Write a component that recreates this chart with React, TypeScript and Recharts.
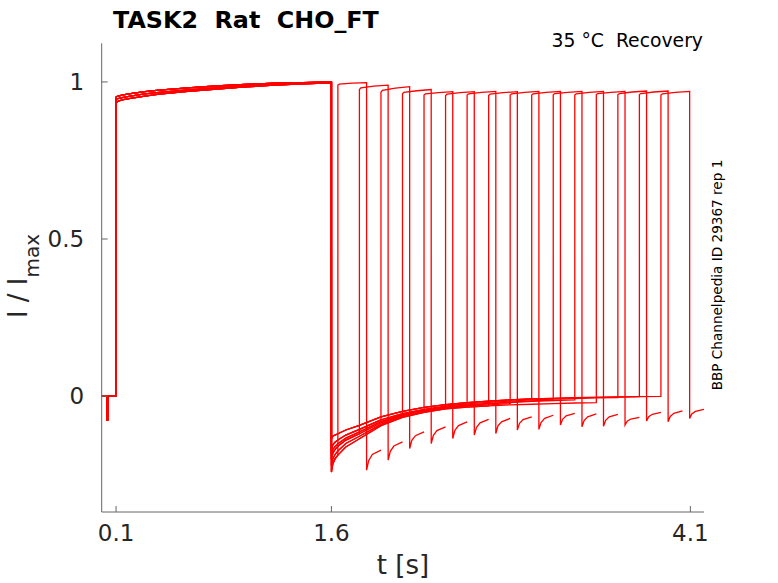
import React from "react";
import { LineChart, Line, XAxis, YAxis } from "recharts";

// ---- protocol / data ----
const xTicks = [0.1, 1.6, 4.1];
const yTicks = [0, 0.5, 1];

// holding segment (with the short capacitive dip)
const holdT = [0, 0.038, 0.039, 0.041, 0.042, 0.1];
const holdV = [0, 0, -0.076, -0.076, 0, 0];

// conditioning pulse 0.1 s -> 1.6 s
const depolT = [0.1, 0.102, 0.12, 0.15, 0.2, 0.3, 0.4, 0.6, 0.8, 1.0, 1.2, 1.4, 1.6];
const depolUpper = [0.947, 0.953, 0.956, 0.959, 0.963, 0.969, 0.974, 0.981, 0.987, 0.992, 0.996, 0.998, 1.0];
const depolMid = [0.937, 0.944, 0.948, 0.951, 0.955, 0.962, 0.967, 0.975, 0.981, 0.987, 0.992, 0.996, 0.998];
const depolLower = [0.928, 0.935, 0.94, 0.944, 0.948, 0.955, 0.961, 0.97, 0.977, 0.984, 0.99, 0.994, 0.997];
const depolShapes = [depolUpper, depolMid, depolLower];

// recovery tails after 1.6 s
const tailT = [1.6, 1.61, 1.625, 1.645, 1.7, 1.795, 1.945, 2.095, 2.245, 2.395, 2.545, 2.695, 2.845, 2.995, 3.145, 3.295, 3.445, 3.595, 3.745, 3.895];
const tailA = [-0.136, -0.128, -0.124, -0.12, -0.108, -0.093, -0.066, -0.049, -0.036, -0.027, -0.021, -0.016, -0.012, -0.009, -0.007, -0.005, -0.004, -0.003, -0.002, -0.001];
const tailB = [-0.17, -0.155, -0.147, -0.14, -0.124, -0.106, -0.076, -0.056, -0.042, -0.032, -0.025, -0.02, -0.016, -0.012, -0.01, -0.008, -0.006, -0.005, -0.004, -0.003];
const tailC = [-0.2, -0.182, -0.17, -0.16, -0.14, -0.12, -0.085, -0.062, -0.047, -0.037, -0.03, -0.025, -0.021, -0.017, -0.014, -0.012, -0.01, -0.008, -0.007, -0.006];
const tailD = [-0.242, -0.215, -0.2, -0.188, -0.162, -0.136, -0.094, -0.068, -0.052, -0.041, -0.035, -0.031, -0.028, -0.026, -0.024, -0.022, -0.021, -0.02, -0.019, -0.018];
const tailE = [-0.185, -0.17, -0.16, -0.152, -0.134, -0.114, -0.081, -0.059, -0.045, -0.035, -0.028, -0.023, -0.019, -0.015, -0.012, -0.01, -0.008, -0.006, -0.005, -0.004];
const tailF = [-0.222, -0.2, -0.186, -0.175, -0.151, -0.128, -0.09, -0.065, -0.05, -0.039, -0.032, -0.028, -0.024, -0.021, -0.019, -0.017, -0.015, -0.014, -0.013, -0.012];
const tailShapes = [tailA, tailB, tailC, tailD, tailE, tailF];

// per-sweep test pulses
const upTimes = [1.645, 1.795, 1.945, 2.095, 2.245, 2.395, 2.545, 2.695, 2.845, 2.995, 3.145, 3.295, 3.445, 3.595, 3.745, 3.895];
const testDuration = 0.2;
const pulseOffsets = [0, 0.01, 0.1, 0.2];
const pulseStart = [0.99, 0.976, 0.967, 0.962, 0.958, 0.957, 0.958, 0.957, 0.958, 0.958, 0.959, 0.958, 0.96, 0.959, 0.96, 0.958];
const pulseHook = [0.993, 0.981, 0.973, 0.967, 0.962, 0.961, 0.962, 0.961, 0.962, 0.962, 0.963, 0.962, 0.963, 0.963, 0.963, 0.962];
const pulseMid = [0.996, 0.987, 0.98, 0.972, 0.966, 0.966, 0.967, 0.966, 0.967, 0.967, 0.967, 0.967, 0.967, 0.968, 0.968, 0.967];
const pulseEnd = [0.998, 0.99, 0.985, 0.976, 0.969, 0.969, 0.97, 0.969, 0.97, 0.97, 0.97, 0.97, 0.97, 0.971, 0.971, 0.97];

// tails after each test pulse
const afterOffsets = [0, 0.015, 0.04, 0.1];
const afterS = [-0.236, -0.204, -0.167, -0.151, -0.135, -0.124, -0.119, -0.108, -0.106, -0.092, -0.098, -0.096, -0.092, -0.079, -0.082, -0.071];
const after1 = [-0.205, -0.176, -0.141, -0.125, -0.109, -0.1, -0.095, -0.087, -0.084, -0.074, -0.078, -0.077, -0.08, -0.066, -0.065, -0.057];
const after2 = [-0.186, -0.159, -0.126, -0.11, -0.094, -0.085, -0.082, -0.075, -0.071, -0.063, -0.066, -0.066, -0.073, -0.058, -0.055, -0.049];
const afterE = [-0.172, -0.146, -0.114, -0.098, -0.082, -0.074, -0.071, -0.066, -0.061, -0.055, -0.057, -0.058, -0.068, -0.052, -0.047, -0.042];

// which recorded shape each sweep follows
const depolShapeOf = [0, 1, 2, 0, 1, 2, 0, 1, 2, 0, 1, 2, 0, 1, 2, 0];
const tailShapeOf = [3, 2, 1, 5, 4, 2, 1, 3, 5, 0, 4, 2, 3, 1, 0, 0];

type Pt = { t: number; v: number };

const sweeps: Pt[][] = upTimes.map((up, i) => {
  const pts: Pt[] = [];
  holdT.forEach((t, k) => pts.push({ t, v: holdV[k] }));
  const dep = depolShapes[depolShapeOf[i]];
  depolT.forEach((t, k) => pts.push({ t, v: dep[k] }));
  const tail = tailShapes[tailShapeOf[i]];
  tailT.forEach((t, k) => {
    if (t <= up + 1e-9) pts.push({ t, v: tail[k] });
  });
  const pv = [pulseStart[i], pulseHook[i], pulseMid[i], pulseEnd[i]];
  pulseOffsets.forEach((o, k) => pts.push({ t: up + o, v: pv[k] }));
  const down = up + testDuration;
  const av = [afterS[i], after1[i], after2[i], afterE[i]];
  afterOffsets.forEach((o, k) => pts.push({ t: down + o, v: av[k] }));
  return pts;
});

const xMax = upTimes[upTimes.length - 1] + testDuration + afterOffsets[afterOffsets.length - 1];

const FONT = "DejaVu Sans, Verdana, sans-serif";
const AX = "#666666";
const TXT = "#262626";

const XTick = (props: any) => {
  const { x, y, payload } = props;
  return (
    <g>
      <line x1={x} x2={x} y1={y} y2={y - 6} stroke={AX} strokeWidth={1} />
      <text x={x} y={y + 29} textAnchor="middle" fontSize={23} fill={TXT} fontFamily={FONT}>
        {String(payload.value)}
      </text>
    </g>
  );
};

const YTick = (props: any) => {
  const { x, y, payload } = props;
  return (
    <g>
      <line x1={x} x2={x + 6} y1={y} y2={y} stroke={AX} strokeWidth={1} />
      <text x={x - 17.5} y={y + 8.4} textAnchor="end" fontSize={23} fill={TXT} fontFamily={FONT}>
        {String(payload.value)}
      </text>
    </g>
  );
};

export default function App() {
  return (
    <div style={{ position: "absolute", left: 0, top: 0, width: 778, height: 583, background: "#fff" }}>
      <LineChart
        width={778}
        height={583}
        margin={{ top: 43.3, right: 74, bottom: 0, left: 0 }}
        style={{ fontFamily: FONT }}
      >
        <XAxis
          type="number"
          dataKey="t"
          domain={[0, xMax]}
          allowDataOverflow
          ticks={xTicks}
          tick={<XTick />}
          tickLine={false}
          tickSize={0}
          tickMargin={0}
          height={71}
          axisLine={{ stroke: AX, strokeWidth: 1 }}
          interval={0}
          label={{
            content: () => (
              <text x={403} y={574} textAnchor="middle" fontSize={26} fill={TXT} fontFamily={FONT}>
                t [s]
              </text>
            ),
          }}
        />
        <YAxis
          type="number"
          domain={[-0.369, 1.123]}
          allowDataOverflow
          ticks={yTicks}
          tick={<YTick />}
          tickLine={false}
          tickSize={0}
          tickMargin={0}
          width={101.7}
          axisLine={{ stroke: AX, strokeWidth: 1 }}
          interval={0}
          label={{
            content: () => (
              <text transform="translate(27,276) rotate(-90)" textAnchor="middle" fontSize={26} fill={TXT} fontFamily={FONT}>
                <tspan>I / I</tspan>
                <tspan fontSize={20} dy={12}>max</tspan>
              </text>
            ),
          }}
        />
        {sweeps.map((d, i) => (
          <Line
            key={i}
            data={d}
            dataKey="v"
            type="linear"
            stroke="#ff0000"
            strokeWidth={1.3}
            dot={false}
            activeDot={false}
            isAnimationActive={false}
          />
        ))}
      </LineChart>
      <svg width={778} height={583} style={{ position: "absolute", left: 0, top: 0, pointerEvents: "none" }}>
        <text x={113} y={27.5} fontSize={23.8} fontWeight="bold" fill="#000" fontFamily={FONT} xmlSpace="preserve">
          TASK2  Rat  CHO_FT
        </text>
        <text x={703} y={47} textAnchor="end" fontSize={18.8} fill="#000" fontFamily={FONT} xmlSpace="preserve">
          35 °C  Recovery
        </text>
        <text transform="translate(722,275) rotate(-90)" textAnchor="middle" fontSize={13.6} fill="#000" fontFamily={FONT}>
          BBP Channelpedia ID 29367 rep 1
        </text>
      </svg>
    </div>
  );
}
